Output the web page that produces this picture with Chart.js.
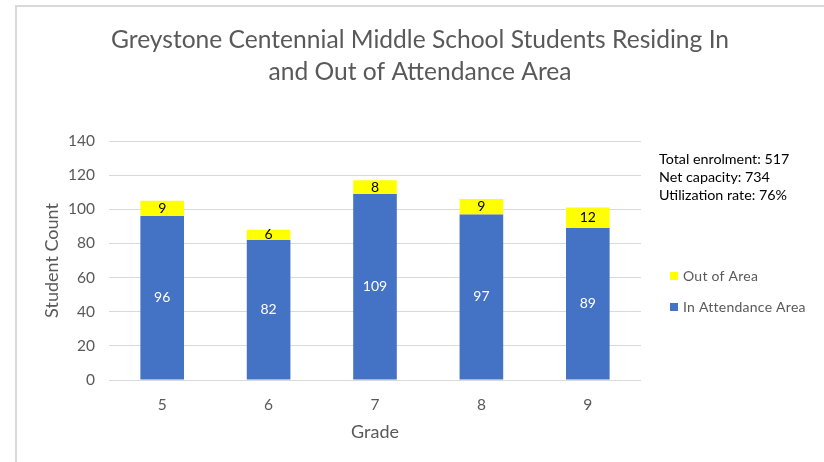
<!DOCTYPE html>
<html>
<head>
<meta charset="utf-8">
<script src="https://cdn.jsdelivr.net/npm/chart.js@4"></script>
<style>
  html, body { margin: 0; padding: 0; background: #fff; }
  #wrap { width: 824px; height: 462px; position: relative; }
</style>
</head>
<body>
<div id="wrap"><canvas id="chart" width="824" height="462"></canvas></div>
<script>
// chart data
const grades = ['5', '6', '7', '8', '9'];
const inArea = [96, 82, 109, 97, 89];
const outArea = [9, 6, 8, 9, 12];
const titleLines = ['Greystone Centennial Middle School Students Residing In', 'and Out of Attendance Area'];
const infoLines = ['Total enrolment: 517', 'Net capacity: 734', 'Utilization rate: 76%'];

const FONT = 'Lato, "Open Sans", sans-serif';
const GREY = '#595959';

// draws frame, title, info box, legend and value labels
const decorPlugin = {
  id: 'decor',
  afterDraw(chart) {
    const ctx = chart.ctx;
    ctx.save();

    // frame (only top and left edges are visible in the original crop)
    ctx.strokeStyle = '#d9d9d9';
    ctx.lineWidth = 2;
    ctx.beginPath();
    ctx.moveTo(16, 462);
    ctx.lineTo(16, 6);
    ctx.lineTo(824, 6);
    ctx.stroke();

    // title
    ctx.fillStyle = GREY;
    ctx.font = '24.6px ' + FONT;
    ctx.textAlign = 'center';
    ctx.textBaseline = 'middle';
    ctx.fillText(titleLines[0], 420, 40);
    ctx.fillText(titleLines[1], 420, 72);

    // info text box
    ctx.fillStyle = '#000';
    ctx.font = '14.3px ' + FONT;
    ctx.textAlign = 'left';
    infoLines.forEach((t, i) => ctx.fillText(t, 659, 159 + i * 18));

    // legend
    const legendItems = [
      { label: chart.data.datasets[1].label, color: chart.data.datasets[1].backgroundColor, y: 276 },
      { label: chart.data.datasets[0].label, color: chart.data.datasets[0].backgroundColor, y: 307 }
    ];
    ctx.font = '14px ' + FONT;
    ctx.letterSpacing = '0.25px';
    legendItems.forEach(item => {
      ctx.fillStyle = item.color;
      ctx.fillRect(670, item.y - 4, 8, 8);
      ctx.fillStyle = GREY;
      ctx.fillText(item.label, 683, item.y);
    });
    ctx.letterSpacing = '0px';

    // value labels centred in each segment
    ctx.font = '14px ' + FONT;
    ctx.textAlign = 'center';
    chart.data.datasets.forEach((ds, di) => {
      const meta = chart.getDatasetMeta(di);
      meta.data.forEach((bar, i) => {
        const midY = (bar.y + bar.base) / 2;
        ctx.fillStyle = di === 0 ? '#ffffff' : '#000000';
        ctx.fillText(String(ds.data[i]), bar.x, midY);
      });
    });

    ctx.restore();
  }
};

new Chart(document.getElementById('chart'), {
  type: 'bar',
  data: {
    labels: grades,
    datasets: [
      { label: 'In Attendance Area', data: inArea, backgroundColor: '#4472C4' },
      { label: 'Out of Area', data: outArea, backgroundColor: '#FFFF00' }
    ]
  },
  options: {
    responsive: false,
    animation: false,
    events: [],
    layout: { padding: { top: 141, left: 0, right: 183, bottom: 10 } },
    plugins: {
      legend: { display: false },
      title: { display: false },
      tooltip: { enabled: false }
    },
    datasets: {
      bar: { categoryPercentage: 1, barPercentage: 0.41 }
    },
    scales: {
      x: {
        stacked: true,
        grid: { display: false, drawTicks: false },
        border: { display: false },
        ticks: { color: GREY, font: { family: FONT, size: 15.5 }, padding: 16 },
        title: { display: true, text: 'Grade', color: GREY, font: { family: FONT, size: 18 }, padding: { top: 0, bottom: 9 } },
        afterFit(scale) { scale.height = 72; }
      },
      y: {
        stacked: true,
        min: 0,
        max: 140,
        ticks: { stepSize: 20, color: GREY, font: { family: FONT, size: 15.5 }, padding: 14 },
        grid: { color: '#d9d9d9', drawTicks: false },
        border: { display: false },
        title: { display: true, text: 'Student Count', color: GREY, font: { family: FONT, size: 18 }, padding: { top: 41, bottom: 0 } },
        afterFit(scale) { scale.width = 109; }
      }
    }
  },
  plugins: [decorPlugin]
});
</script>
</body>
</html>
